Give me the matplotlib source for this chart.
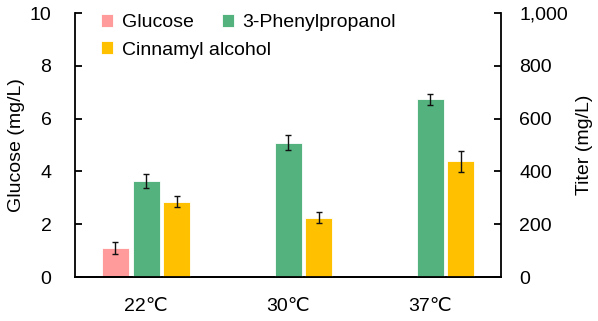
import matplotlib.pyplot as plt
import numpy as np
from matplotlib.ticker import FuncFormatter

plt.rcParams['font.family'] = ['Liberation Sans', 'DejaVu Sans']

temps = ['22℃', '30℃', '37℃']
glucose = [1.1]            # mg/L, only 22°C
glucose_err = [0.22]
phenylpropanol = [364, 509, 673]   # mg/L
phenylpropanol_err = [27, 28, 22]
cinnamyl = [285, 225, 438]         # mg/L
cinnamyl_err = [20, 20, 40]

c_glu = '#FF9B9B'
c_phe = '#54B27E'
c_cin = '#FFC000'

x = np.arange(len(temps))
w = 0.19
off = 0.215
fs = 14

fig = plt.figure(figsize=(5.98, 3.21), dpi=100)
ax = fig.add_axes([0.1254, 0.137, 0.838 - 0.1254, 0.9595 - 0.137])
ax2 = ax.twinx()

ekw = dict(elinewidth=1.0, capthick=1.0, ecolor='#111111')
b1 = ax.bar(x[:1] - off, glucose, w, yerr=glucose_err, capsize=2.5, color=c_glu,
            edgecolor='white', linewidth=0.6, error_kw=ekw, label='Glucose')
b2 = ax2.bar(x, phenylpropanol, w, yerr=phenylpropanol_err, capsize=2.5, color=c_phe,
             edgecolor='white', linewidth=0.6, error_kw=ekw, label='3-Phenylpropanol')
b3 = ax2.bar(x + off, cinnamyl, w, yerr=cinnamyl_err, capsize=2.5, color=c_cin,
             edgecolor='white', linewidth=0.6, error_kw=ekw, label='Cinnamyl alcohol')

ax.set_xlim(-0.5, 2.5)
ax.set_ylim(0, 10)
ax2.set_ylim(0, 1000)
ax.set_yticks(range(0, 11, 2))
ax2.set_yticks(range(0, 1001, 200))
ax2.yaxis.set_major_formatter(FuncFormatter(lambda v, _: f'{int(v):,}'))
ax.set_xticks(x)
ax.set_xticklabels(temps)

for a in (ax, ax2):
    a.spines['top'].set_visible(False)
    for s in a.spines.values():
        s.set_linewidth(1.3)
ax.spines['right'].set_visible(False)
ax2.spines['left'].set_visible(False)

ax.tick_params(axis='y', direction='in', length=5, width=1.3, pad=17, labelsize=fs)
ax2.tick_params(axis='y', direction='in', length=5, width=1.3, pad=13, labelsize=fs)
ax.tick_params(axis='x', length=0, pad=15, labelsize=fs)

ax.set_ylabel('Glucose (mg/L)', fontsize=fs, labelpad=3)
ax2.set_ylabel('Titer (mg/L)', fontsize=fs, labelpad=6)

# 图例：Excel 风格的排布，用两个图例拼出来
lkw = dict(frameon=False, fontsize=fs, handlelength=0.62, handleheight=0.62,
           handletextpad=0.45, borderpad=0, borderaxespad=0, loc='center left',
           bbox_transform=fig.transFigure)
leg1 = ax2.legend(handles=[b1, b2], ncol=2, columnspacing=1.45,
                  bbox_to_anchor=(101 / 598, 1 - 22.5 / 321), **lkw)
ax2.add_artist(leg1)
ax2.legend(handles=[b3], bbox_to_anchor=(101 / 598, 1 - 50 / 321), **lkw)

fig.savefig('out.png', dpi=100)
